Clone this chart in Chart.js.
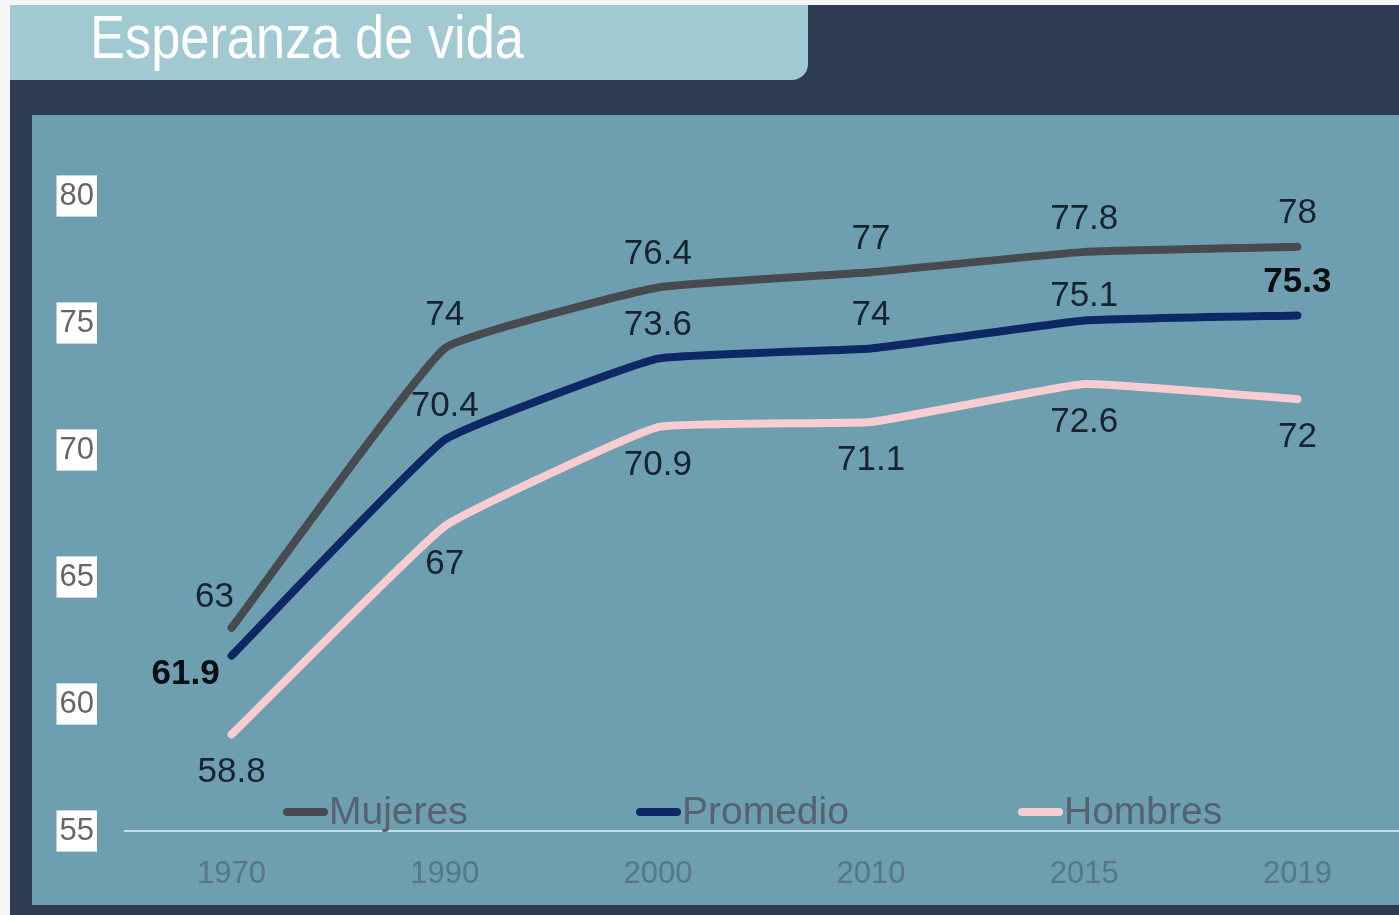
<!DOCTYPE html>
<html>
<head>
  <title>Esperanza de vida</title>
  <script src="https://cdn.jsdelivr.net/npm/chart.js"></script>
  <style>
    body {
      margin: 0;
      width: 1399px;
      height: 915px;
      overflow: hidden;
      background-color: #f4f6f7;
      font-family: "Liberation Sans", Arial, sans-serif;
    }

    .frame {
      position: absolute;
      left: 10px;
      top: 5px;
      width: 1389px;
      height: 910px;
      background-color: #2e3c52;
    }

    .title-tab {
      position: absolute;
      left: 10px;
      top: 5px;
      width: 798px;
      height: 75px;
      background-color: #a1c9d2;
      border-bottom-right-radius: 16px;
    }

    .title-tab h1 {
      margin: 0;
      position: absolute;
      left: 80px;
      top: -4px;
      font-weight: normal;
      font-size: 62px;
      color: #ffffff;
      transform: scaleX(0.845);
      transform-origin: left top;
      white-space: nowrap;
    }

    .panel {
      position: absolute;
      left: 32px;
      top: 115px;
      width: 1367px;
      height: 790px;
      background-color: #6e9fb1;
    }

    canvas {
      position: absolute;
      left: 32px;
      top: 115px;
    }
  </style>
</head>
<body>
  <div class="frame"></div>
  <div class="title-tab"><h1>Esperanza de vida</h1></div>
  <div class="panel"></div>
  <canvas id="lifeChart" width="1372" height="790"></canvas>

  <script>
    const years = ['1970', '1990', '2000', '2010', '2015', '2019'];
    const mujeres = [63, 74, 76.4, 77, 77.8, 78];
    const promedio = [61.9, 70.4, 73.6, 74, 75.1, 75.3];
    const hombres = [58.8, 67, 70.9, 71.1, 72.6, 72];
    const seriesNames = ['Mujeres', 'Promedio', 'Hombres'];
    const yTicks = [55, 60, 65, 70, 75, 80];

    const colors = ['#474a4e', '#0e2866', '#f7cdd1'];

    // value labels next to each point
    const pointLabels = {
      id: 'pointLabels',
      afterDatasetsDraw(chart) {
        const ctx = chart.ctx;
        ctx.save();
        ctx.textAlign = 'center';
        ctx.textBaseline = 'middle';
        chart.data.datasets.forEach((ds, di) => {
          const meta = chart.getDatasetMeta(di);
          meta.data.forEach((pt, i) => {
            let dx = 0;
            let dy = -33;
            let bold = false;
            if (di === 1) {
              dy = -33;
              if (i === 4) dy = -24;
              if (i === 0) { dx = -46; dy = 19; bold = true; }
              if (i === 5) bold = true;
            } else if (di === 2) {
              dy = 38;
            } else if (i === 0) {
              dx = -17;
              dy = -30;
            }
            ctx.font = (bold ? 'bold ' : '') + '35px "Liberation Sans", Arial, sans-serif';
            ctx.fillStyle = bold ? '#0a0f14' : '#17232e';
            ctx.fillText(String(ds.data[i]), pt.x + dx, pt.y + dy);
          });
        });
        ctx.restore();
      }
    };

    // legend drawn inside the plot, just above the axis line
    const insideLegend = {
      id: 'insideLegend',
      afterDatasetsDraw(chart) {
        const ctx = chart.ctx;
        const area = chart.chartArea;
        const starts = [158, 511, 893];
        const y = area.bottom - 19;
        ctx.save();
        ctx.font = '39px "Liberation Sans", Arial, sans-serif';
        ctx.textBaseline = 'middle';
        ctx.textAlign = 'left';
        chart.data.datasets.forEach((ds, di) => {
          const x = area.left + starts[di];
          ctx.strokeStyle = ds.borderColor;
          ctx.lineWidth = 8;
          ctx.lineCap = 'round';
          ctx.beginPath();
          ctx.moveTo(x + 4, y);
          ctx.lineTo(x + 41, y);
          ctx.stroke();
          ctx.fillStyle = '#56626d';
          ctx.fillText(ds.label, x + 46, y + 1);
        });
        ctx.restore();
      }
    };

    const makeSet = (label, data, color) => ({
      label: label,
      data: data,
      borderColor: color,
      backgroundColor: color,
      borderWidth: 8,
      borderCapStyle: 'round',
      borderJoinStyle: 'round',
      pointRadius: 0,
      pointHoverRadius: 0,
      tension: 0.1,
      fill: false,
    });

    new Chart(document.getElementById('lifeChart'), {
      type: 'line',
      data: {
        labels: years,
        datasets: [
          makeSet(seriesNames[0], mujeres, colors[0]),
          makeSet(seriesNames[1], promedio, colors[1]),
          makeSet(seriesNames[2], hombres, colors[2]),
        ],
      },
      options: {
        responsive: false,
        animation: false,
        layout: { padding: { top: 81, right: 0, bottom: 0, left: 0 } },
        plugins: {
          legend: { display: false },
          tooltip: { enabled: false },
        },
        scales: {
          x: {
            offset: true,
            grid: { display: false, drawTicks: false },
            border: { display: true, color: '#bfe0ea', width: 2 },
            ticks: {
              color: '#587686',
              padding: 25,
              font: { size: 31, family: '"Liberation Sans", Arial, sans-serif' },
            },
            afterFit: (scale) => { scale.height = 74; },
          },
          y: {
            min: 55,
            max: 80,
            afterBuildTicks: (scale) => { scale.ticks = yTicks.map((v) => ({ value: v })); },
            grid: { display: false, drawTicks: false },
            border: { display: false },
            ticks: {
              color: '#666666',
              padding: 31,
              showLabelBackdrop: true,
              backdropColor: '#ffffff',
              backdropPadding: { x: 3, y: 2 },
              font: { size: 31, family: '"Liberation Sans", Arial, sans-serif' },
            },
            afterFit: (scale) => { scale.width = 93; },
          },
        },
      },
      plugins: [pointLabels, insideLegend],
    });
  </script>
</body>
</html>
